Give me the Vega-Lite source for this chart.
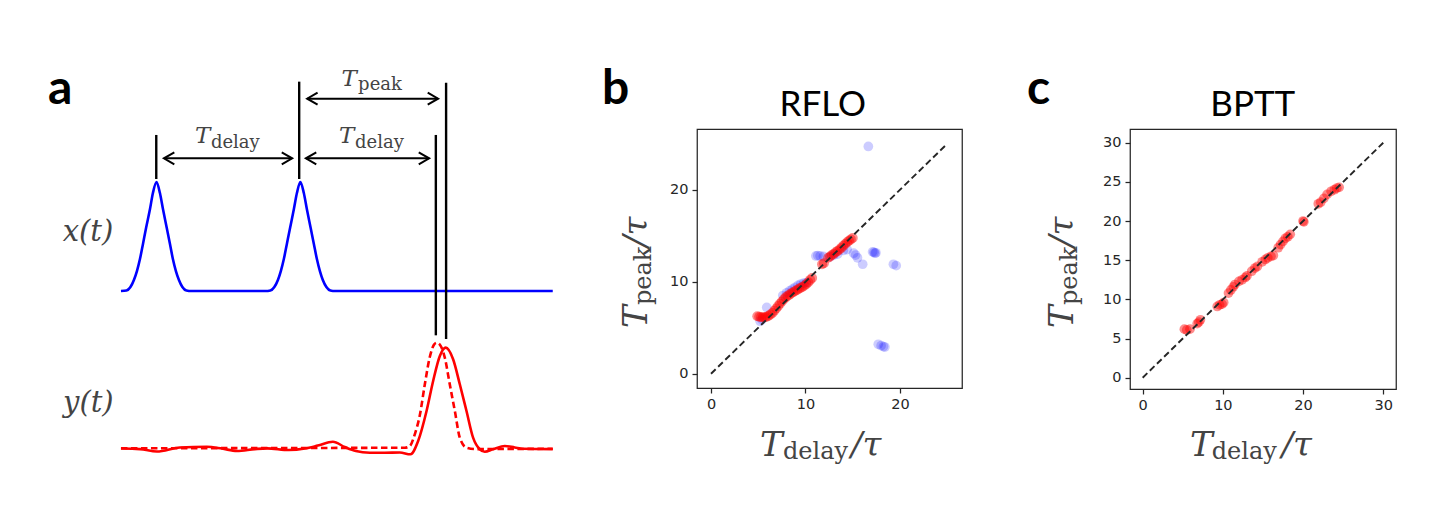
{
  "$schema": "https://vega.github.io/schema/vega-lite/v6.json",
  "background": "white",
  "padding": {"left": 40, "top": 65, "right": 5, "bottom": 5},
  "bounds": "flush",
  "spacing": 168,
  "config": {
    "view": {"stroke": "#262626", "strokeWidth": 1.25},
    "axis": {"domain": false, "grid": false, "ticks": true, "tickSize": 5, "tickColor": "#262626", "tickWidth": 1.25, "labelFont": "DejaVu Sans", "labelFontSize": 14.5, "labelColor": "#262626", "labelPadding": 4}
  },
  "datasets": {
    "x_t": [
      {"t": 0, "v": 1.477}, {"t": 0.51, "v": 1.482}, {"t": 0.88, "v": 1.515}, {"t": 1.2, "v": 1.581}, {"t": 1.48, "v": 1.665}, {"t": 1.76, "v": 1.778}, {"t": 2.04, "v": 1.92}, {"t": 2.33, "v": 2.072}, {"t": 2.69, "v": 2.248}, {"t": 2.96, "v": 2.398}, {"t": 3.29, "v": 2.502}, {"t": 3.61, "v": 2.398}, {"t": 3.89, "v": 2.248}, {"t": 4.24, "v": 2.072}, {"t": 4.54, "v": 1.92}, {"t": 4.81, "v": 1.778}, {"t": 5.09, "v": 1.665}, {"t": 5.37, "v": 1.581}, {"t": 5.69, "v": 1.515}, {"t": 6.06, "v": 1.482}, {"t": 6.53, "v": 1.477},
      {"t": 13.38, "v": 1.477}, {"t": 13.84, "v": 1.482}, {"t": 14.21, "v": 1.515}, {"t": 14.54, "v": 1.581}, {"t": 14.81, "v": 1.665}, {"t": 15.09, "v": 1.778}, {"t": 15.37, "v": 1.92}, {"t": 15.67, "v": 2.072}, {"t": 16.02, "v": 2.248}, {"t": 16.3, "v": 2.398}, {"t": 16.62, "v": 2.502}, {"t": 16.94, "v": 2.398}, {"t": 17.22, "v": 2.248}, {"t": 17.57, "v": 2.072}, {"t": 17.87, "v": 1.92}, {"t": 18.15, "v": 1.778}, {"t": 18.43, "v": 1.665}, {"t": 18.7, "v": 1.581}, {"t": 19.03, "v": 1.515}, {"t": 19.4, "v": 1.482}, {"t": 19.86, "v": 1.477}, {"t": 40, "v": 1.477}
    ],
    "y_t": [
      {"t": 0, "v": -0.003}, {"t": 1.76, "v": -0.008}, {"t": 3.33, "v": -0.031}, {"t": 5.46, "v": 0.007}, {"t": 7.96, "v": 0.014}, {"t": 9.35, "v": -0.003}, {"t": 10.74, "v": -0.026}, {"t": 12.41, "v": -0.008}, {"t": 13.52, "v": -0.001}, {"t": 15.56, "v": -0.017}, {"t": 17.04, "v": -0.003}, {"t": 18.24, "v": 0.025}, {"t": 19.63, "v": 0.061}, {"t": 20.74, "v": 0.011}, {"t": 21.76, "v": -0.026}, {"t": 23.06, "v": -0.042}, {"t": 24.44, "v": -0.043}, {"t": 25.83, "v": -0.04}, {"t": 26.82, "v": -0.057}, {"t": 27.53, "v": 0.068}, {"t": 28.31, "v": 0.35}, {"t": 28.92, "v": 0.632}, {"t": 29.54, "v": 0.867}, {"t": 30.09, "v": 0.945}, {"t": 30.77, "v": 0.836}, {"t": 31.39, "v": 0.601}, {"t": 32.01, "v": 0.35}, {"t": 32.62, "v": 0.099}, {"t": 33.24, "v": -0.01}, {"t": 33.7, "v": -0.033}, {"t": 34.47, "v": -0.01}, {"t": 35.56, "v": 0.021}, {"t": 36.48, "v": 0.007}, {"t": 37.25, "v": -0.005}, {"t": 40, "v": -0.008}
    ],
    "y_target": [
      {"t": 0, "v": 0}, {"t": 26.3, "v": 0.005}, {"t": 26.76, "v": 0.021}, {"t": 27.22, "v": 0.131}, {"t": 27.69, "v": 0.312}, {"t": 28.15, "v": 0.601}, {"t": 28.61, "v": 0.857}, {"t": 28.98, "v": 0.97}, {"t": 29.25, "v": 0.992}, {"t": 29.63, "v": 0.96}, {"t": 30.0, "v": 0.851}, {"t": 30.46, "v": 0.601}, {"t": 30.93, "v": 0.35}, {"t": 31.39, "v": 0.099}, {"t": 32.01, "v": 0.005}, {"t": 32.78, "v": -0.008}, {"t": 40, "v": -0.005}
    ],
    "markers": [
      {"t": 3.27, "y1": 2.53, "y2": 2.944}, {"t": 16.51, "y1": 2.53, "y2": 3.445}, {"t": 29.17, "y1": 1.061, "y2": 2.944}, {"t": 30.12, "y1": 1.026, "y2": 3.435}
    ],
    "intervals": [
      {"name": "delay1", "t1": 3.98, "t2": 15.86, "y": 2.725}, {"name": "delay2", "t1": 17.13, "t2": 28.55, "y": 2.725}, {"name": "peak", "t1": 17.25, "t2": 29.38, "y": 3.285}
    ],
    "rflo_blue": [
      {"x": 16.65, "y": 24.7}, {"x": 17.1, "y": 13.25}, {"x": 17.25, "y": 13.2}, {"x": 17.35, "y": 13.1}, {"x": 17.45, "y": 13.15}, {"x": 19.3, "y": 11.9}, {"x": 19.6, "y": 11.75}, {"x": 17.7, "y": 3.2}, {"x": 18.0, "y": 3.05}, {"x": 18.25, "y": 2.95}, {"x": 18.4, "y": 2.9}, {"x": 16.05, "y": 11.9}, {"x": 15.1, "y": 13.1}, {"x": 15.3, "y": 12.9}, {"x": 15.5, "y": 12.6}, {"x": 14.4, "y": 13.5}, {"x": 14.0, "y": 13.4}, {"x": 11.1, "y": 12.8}, {"x": 11.3, "y": 12.85}, {"x": 11.55, "y": 12.8}, {"x": 11.9, "y": 12.75}, {"x": 12.6, "y": 12.7}, {"x": 13.0, "y": 12.9}, {"x": 13.4, "y": 13.0}, {"x": 7.6, "y": 8.5}, {"x": 8.0, "y": 8.8}, {"x": 8.3, "y": 9.0}, {"x": 8.6, "y": 9.2}, {"x": 8.9, "y": 9.4}, {"x": 9.2, "y": 9.6}, {"x": 9.5, "y": 9.75}, {"x": 9.8, "y": 9.85}, {"x": 10.1, "y": 9.9}, {"x": 5.9, "y": 7.2}, {"x": 5.2, "y": 5.7}, {"x": 5.4, "y": 5.9}
    ],
    "rflo_red": [
      {"x": 4.9, "y": 6.25}, {"x": 5.1, "y": 6.2}, {"x": 5.3, "y": 6.15}, {"x": 5.5, "y": 6.15}, {"x": 5.7, "y": 6.15}, {"x": 5.9, "y": 6.2}, {"x": 6.1, "y": 6.3}, {"x": 6.3, "y": 6.45}, {"x": 6.5, "y": 6.6}, {"x": 6.7, "y": 6.85}, {"x": 6.9, "y": 7.1}, {"x": 7.1, "y": 7.35}, {"x": 7.3, "y": 7.6}, {"x": 7.5, "y": 7.85}, {"x": 7.7, "y": 8.1}, {"x": 7.9, "y": 8.3}, {"x": 8.1, "y": 8.45}, {"x": 8.3, "y": 8.6}, {"x": 8.5, "y": 8.75}, {"x": 8.7, "y": 8.85}, {"x": 8.9, "y": 9.0}, {"x": 9.1, "y": 9.1}, {"x": 9.3, "y": 9.25}, {"x": 9.5, "y": 9.35}, {"x": 9.7, "y": 9.45}, {"x": 9.9, "y": 9.6}, {"x": 10.1, "y": 9.75}, {"x": 10.3, "y": 9.95}, {"x": 10.5, "y": 10.2}, {"x": 10.7, "y": 10.4},
      {"x": 11.75, "y": 11.9}, {"x": 11.95, "y": 12.0},
      {"x": 12.4, "y": 12.6}, {"x": 12.6, "y": 12.75}, {"x": 12.8, "y": 12.9}, {"x": 13.0, "y": 13.05}, {"x": 13.2, "y": 13.2}, {"x": 13.4, "y": 13.35}, {"x": 13.6, "y": 13.5}, {"x": 13.8, "y": 13.7}, {"x": 14.0, "y": 13.9}, {"x": 14.2, "y": 14.1}, {"x": 14.4, "y": 14.3}, {"x": 14.6, "y": 14.45}, {"x": 14.8, "y": 14.6}, {"x": 15.0, "y": 14.75}
    ],
    "bptt_red": [
      {"x": 5.2, "y": 6.2}, {"x": 5.5, "y": 6.1}, {"x": 5.9, "y": 6.2}, {"x": 6.8, "y": 6.9}, {"x": 7.0, "y": 7.1}, {"x": 7.2, "y": 7.4}, {"x": 9.3, "y": 9.1}, {"x": 9.6, "y": 9.3}, {"x": 9.9, "y": 9.4}, {"x": 10.1, "y": 9.6}, {"x": 10.7, "y": 10.8}, {"x": 11.0, "y": 11.2}, {"x": 11.3, "y": 11.6}, {"x": 11.5, "y": 11.9}, {"x": 12.0, "y": 12.3}, {"x": 12.4, "y": 12.5}, {"x": 12.8, "y": 12.8}, {"x": 13.0, "y": 13.0}, {"x": 13.6, "y": 13.6}, {"x": 14.0, "y": 14.0}, {"x": 14.3, "y": 14.2}, {"x": 14.9, "y": 14.8}, {"x": 15.3, "y": 15.1}, {"x": 15.6, "y": 15.3}, {"x": 16.0, "y": 15.5}, {"x": 16.3, "y": 15.6}, {"x": 16.9, "y": 16.6}, {"x": 17.2, "y": 17.0}, {"x": 17.5, "y": 17.4}, {"x": 17.8, "y": 17.8}, {"x": 18.1, "y": 18.0}, {"x": 18.4, "y": 18.3}, {"x": 20.0, "y": 20.0}, {"x": 20.1, "y": 19.9}, {"x": 21.9, "y": 22.2}, {"x": 22.2, "y": 22.4}, {"x": 22.6, "y": 22.9}, {"x": 23.0, "y": 23.4}, {"x": 23.5, "y": 23.8}, {"x": 23.9, "y": 24.0}, {"x": 24.2, "y": 24.2}, {"x": 24.5, "y": 24.3}
    ],
    "diag_b": [{"x": 0, "y": 0}, {"x": 25, "y": 25}],
    "diag_c": [{"x": 0, "y": 0}, {"x": 30, "y": 30}]
  },
  "hconcat": [
    {
      "width": 489, "height": 332, "view": {"stroke": null},
      "layer": [
        {"data": {"name": "x_t"}, "mark": {"type": "line", "color": "#0000ff", "strokeWidth": 2.6, "interpolate": "monotone"},
         "encoding": {"x": {"field": "t", "type": "quantitative", "scale": {"domain": [-7.5, 37.8], "nice": false, "zero": false}, "axis": null}, "y": {"field": "v", "type": "quantitative", "scale": {"domain": [-0.12, 3.0], "nice": false, "zero": false}, "axis": null}}},
        {"data": {"name": "y_t"}, "mark": {"type": "line", "color": "#ff0000", "strokeWidth": 2.6, "interpolate": "monotone"},
         "encoding": {"x": {"field": "t", "type": "quantitative", "scale": {"domain": [-7.5, 37.8], "nice": false, "zero": false}, "axis": null}, "y": {"field": "v", "type": "quantitative", "scale": {"domain": [-0.12, 3.0], "nice": false, "zero": false}, "axis": null}}},
        {"data": {"name": "y_target"}, "mark": {"type": "line", "color": "#ff0000", "strokeWidth": 2.6, "strokeDash": [6.5, 3.5], "interpolate": "monotone"},
         "encoding": {"x": {"field": "t", "type": "quantitative", "scale": {"domain": [-7.5, 37.8], "nice": false, "zero": false}, "axis": null}, "y": {"field": "v", "type": "quantitative", "scale": {"domain": [-0.12, 3.0], "nice": false, "zero": false}, "axis": null}}},
        {"data": {"name": "markers"}, "mark": {"type": "rule", "color": "black", "strokeWidth": 2.4},
         "encoding": {"x": {"field": "t", "type": "quantitative", "scale": {"domain": [-7.5, 37.8], "nice": false, "zero": false}, "axis": null}, "y": {"field": "y1", "type": "quantitative", "scale": {"domain": [-0.12, 3.0], "nice": false, "zero": false}, "axis": null}, "y2": {"field": "y2"}}},
        {"data": {"name": "intervals"}, "mark": {"type": "rule", "color": "black", "strokeWidth": 2},
         "encoding": {"x": {"field": "t1", "type": "quantitative", "scale": {"domain": [-7.5, 37.8], "nice": false, "zero": false}, "axis": null}, "x2": {"field": "t2"}, "y": {"field": "y", "type": "quantitative", "scale": {"domain": [-0.12, 3.0], "nice": false, "zero": false}, "axis": null}}},
        {"data": {"name": "intervals"}, "mark": {"type": "point", "shape": "M1.3,-0.75L0,0L1.3,0.75", "filled": false, "color": "black", "strokeWidth": 2, "size": 256, "opacity": 1},
         "encoding": {"x": {"field": "t1", "type": "quantitative", "scale": {"domain": [-7.5, 37.8], "nice": false, "zero": false}, "axis": null}, "y": {"field": "y", "type": "quantitative", "scale": {"domain": [-0.12, 3.0], "nice": false, "zero": false}, "axis": null}}},
        {"data": {"name": "intervals"}, "mark": {"type": "point", "shape": "M-1.3,-0.75L0,0L-1.3,0.75", "filled": false, "color": "black", "strokeWidth": 2, "size": 256, "opacity": 1},
         "encoding": {"x": {"field": "t2", "type": "quantitative", "scale": {"domain": [-7.5, 37.8], "nice": false, "zero": false}, "axis": null}, "y": {"field": "y", "type": "quantitative", "scale": {"domain": [-0.12, 3.0], "nice": false, "zero": false}, "axis": null}}},
        {"data": {"values": [{}]}, "mark": {"type": "text", "text": "a", "font": "Lato", "fontWeight": "bold", "fontSize": 48, "color": "black", "align": "left", "baseline": "alphabetic"},
         "encoding": {"x": {"datum": -6.76, "type": "quantitative", "scale": {"domain": [-7.5, 37.8], "nice": false, "zero": false}, "axis": null}, "y": {"datum": 3.235, "type": "quantitative", "scale": {"domain": [-0.12, 3.0], "nice": false, "zero": false}, "axis": null}}},
        {"data": {"values": [{}]}, "mark": {"type": "text", "text": "x(t)", "font": "DejaVu Serif", "fontStyle": "italic", "fontSize": 29, "color": "#444", "align": "left", "baseline": "alphabetic"},
         "encoding": {"x": {"datum": -5.4, "type": "quantitative", "scale": {"domain": [-7.5, 37.8], "nice": false, "zero": false}, "axis": null}, "y": {"datum": 1.947, "type": "quantitative", "scale": {"domain": [-0.12, 3.0], "nice": false, "zero": false}, "axis": null}}},
        {"data": {"values": [{}]}, "mark": {"type": "text", "text": "y(t)", "font": "DejaVu Serif", "fontStyle": "italic", "fontSize": 29, "color": "#444", "align": "left", "baseline": "alphabetic"},
         "encoding": {"x": {"datum": -5.37, "type": "quantitative", "scale": {"domain": [-7.5, 37.8], "nice": false, "zero": false}, "axis": null}, "y": {"datum": 0.337, "type": "quantitative", "scale": {"domain": [-0.12, 3.0], "nice": false, "zero": false}, "axis": null}}},
        {"data": {"values": [{}]}, "mark": {"type": "text", "text": "T", "font": "DejaVu Serif", "fontStyle": "italic", "fontSize": 23, "color": "#444", "align": "left", "baseline": "alphabetic"},
         "encoding": {"x": {"datum": 6.85, "type": "quantitative", "scale": {"domain": [-7.5, 37.8], "nice": false, "zero": false}, "axis": null}, "y": {"datum": 2.871, "type": "quantitative", "scale": {"domain": [-0.12, 3.0], "nice": false, "zero": false}, "axis": null}}},
        {"data": {"values": [{}]}, "mark": {"type": "text", "text": "delay", "font": "DejaVu Serif", "fontSize": 18, "color": "#444", "align": "left", "baseline": "alphabetic"},
         "encoding": {"x": {"datum": 8.33, "type": "quantitative", "scale": {"domain": [-7.5, 37.8], "nice": false, "zero": false}, "axis": null}, "y": {"datum": 2.821, "type": "quantitative", "scale": {"domain": [-0.12, 3.0], "nice": false, "zero": false}, "axis": null}}},
        {"data": {"values": [{}]}, "mark": {"type": "text", "text": "T", "font": "DejaVu Serif", "fontStyle": "italic", "fontSize": 23, "color": "#444", "align": "left", "baseline": "alphabetic"},
         "encoding": {"x": {"datum": 20.21, "type": "quantitative", "scale": {"domain": [-7.5, 37.8], "nice": false, "zero": false}, "axis": null}, "y": {"datum": 2.871, "type": "quantitative", "scale": {"domain": [-0.12, 3.0], "nice": false, "zero": false}, "axis": null}}},
        {"data": {"values": [{}]}, "mark": {"type": "text", "text": "delay", "font": "DejaVu Serif", "fontSize": 18, "color": "#444", "align": "left", "baseline": "alphabetic"},
         "encoding": {"x": {"datum": 21.69, "type": "quantitative", "scale": {"domain": [-7.5, 37.8], "nice": false, "zero": false}, "axis": null}, "y": {"datum": 2.821, "type": "quantitative", "scale": {"domain": [-0.12, 3.0], "nice": false, "zero": false}, "axis": null}}},
        {"data": {"values": [{}]}, "mark": {"type": "text", "text": "T", "font": "DejaVu Serif", "fontStyle": "italic", "fontSize": 23, "color": "#444", "align": "left", "baseline": "alphabetic"},
         "encoding": {"x": {"datum": 20.44, "type": "quantitative", "scale": {"domain": [-7.5, 37.8], "nice": false, "zero": false}, "axis": null}, "y": {"datum": 3.404, "type": "quantitative", "scale": {"domain": [-0.12, 3.0], "nice": false, "zero": false}, "axis": null}}},
        {"data": {"values": [{}]}, "mark": {"type": "text", "text": "peak", "font": "DejaVu Serif", "fontSize": 18, "color": "#444", "align": "left", "baseline": "alphabetic"},
         "encoding": {"x": {"datum": 21.97, "type": "quantitative", "scale": {"domain": [-7.5, 37.8], "nice": false, "zero": false}, "axis": null}, "y": {"datum": 3.362, "type": "quantitative", "scale": {"domain": [-0.12, 3.0], "nice": false, "zero": false}, "axis": null}}}
      ]
    },
    {
      "width": 265, "height": 259,
      "layer": [
        {"data": {"name": "rflo_blue"}, "mark": {"type": "circle", "color": "#0000ff", "opacity": 0.2, "size": 95},
         "encoding": {"x": {"field": "x", "type": "quantitative", "scale": {"domain": [-1.48, 26.56], "nice": false, "zero": false}, "axis": {"values": [0, 10, 20], "title": null, "labelFontSize": 14.5, "labelFont": "DejaVu Sans"}}, "y": {"field": "y", "type": "quantitative", "scale": {"domain": [-1.55, 26.6], "nice": false, "zero": false}, "axis": {"values": [0, 10, 20], "title": null, "labelFontSize": 14.5, "labelFont": "DejaVu Sans"}}}},
        {"data": {"name": "rflo_red"}, "mark": {"type": "circle", "color": "#ff0000", "opacity": 0.45, "size": 100},
         "encoding": {"x": {"field": "x", "type": "quantitative", "scale": {"domain": [-1.48, 26.56], "nice": false, "zero": false}, "axis": {"values": [0, 10, 20], "title": null, "labelFontSize": 14.5, "labelFont": "DejaVu Sans"}}, "y": {"field": "y", "type": "quantitative", "scale": {"domain": [-1.55, 26.6], "nice": false, "zero": false}, "axis": {"values": [0, 10, 20], "title": null, "labelFontSize": 14.5, "labelFont": "DejaVu Sans"}}}},
        {"data": {"name": "diag_b"}, "mark": {"type": "line", "color": "#262626", "strokeWidth": 1.9, "strokeDash": [6.5, 3.5]},
         "encoding": {"x": {"field": "x", "type": "quantitative", "scale": {"domain": [-1.48, 26.56], "nice": false, "zero": false}, "axis": {"values": [0, 10, 20], "title": null, "labelFontSize": 14.5, "labelFont": "DejaVu Sans"}}, "y": {"field": "y", "type": "quantitative", "scale": {"domain": [-1.55, 26.6], "nice": false, "zero": false}, "axis": {"values": [0, 10, 20], "title": null, "labelFontSize": 14.5, "labelFont": "DejaVu Sans"}}}},
        {"data": {"values": [{}]}, "mark": {"type": "text", "text": "b", "font": "Lato", "fontWeight": "bold", "fontSize": 48, "color": "black", "align": "left", "baseline": "alphabetic"},
         "encoding": {"x": {"datum": -11.53, "type": "quantitative", "scale": {"domain": [-1.48, 26.56], "nice": false, "zero": false}, "axis": {"values": [0, 10, 20], "title": null, "labelFontSize": 14.5, "labelFont": "DejaVu Sans"}}, "y": {"datum": 29.32, "type": "quantitative", "scale": {"domain": [-1.55, 26.6], "nice": false, "zero": false}, "axis": {"values": [0, 10, 20], "title": null, "labelFontSize": 14.5, "labelFont": "DejaVu Sans"}}}},
        {"data": {"values": [{}]}, "mark": {"type": "text", "text": "RFLO", "font": "Lato", "fontSize": 35, "color": "black", "align": "center", "baseline": "alphabetic"},
         "encoding": {"x": {"datum": 11.83, "type": "quantitative", "scale": {"domain": [-1.48, 26.56], "nice": false, "zero": false}, "axis": {"values": [0, 10, 20], "title": null, "labelFontSize": 14.5, "labelFont": "DejaVu Sans"}}, "y": {"datum": 28.01, "type": "quantitative", "scale": {"domain": [-1.55, 26.6], "nice": false, "zero": false}, "axis": {"values": [0, 10, 20], "title": null, "labelFontSize": 14.5, "labelFont": "DejaVu Sans"}}}},
        {"data": {"values": [{}]}, "mark": {"type": "text", "text": "T", "font": "DejaVu Serif", "fontStyle": "italic", "fontSize": 34, "color": "#444", "align": "left", "baseline": "alphabetic"},
         "encoding": {"x": {"datum": 5.19, "type": "quantitative", "scale": {"domain": [-1.48, 26.56], "nice": false, "zero": false}, "axis": {"values": [0, 10, 20], "title": null, "labelFontSize": 14.5, "labelFont": "DejaVu Sans"}}, "y": {"datum": -8.95, "type": "quantitative", "scale": {"domain": [-1.55, 26.6], "nice": false, "zero": false}, "axis": {"values": [0, 10, 20], "title": null, "labelFontSize": 14.5, "labelFont": "DejaVu Sans"}}}},
        {"data": {"values": [{}]}, "mark": {"type": "text", "text": "delay", "font": "DejaVu Serif", "fontSize": 24, "color": "#444", "align": "left", "baseline": "alphabetic"},
         "encoding": {"x": {"datum": 7.62, "type": "quantitative", "scale": {"domain": [-1.48, 26.56], "nice": false, "zero": false}, "axis": {"values": [0, 10, 20], "title": null, "labelFontSize": 14.5, "labelFont": "DejaVu Sans"}}, "y": {"datum": -9.27, "type": "quantitative", "scale": {"domain": [-1.55, 26.6], "nice": false, "zero": false}, "axis": {"values": [0, 10, 20], "title": null, "labelFontSize": 14.5, "labelFont": "DejaVu Sans"}}}},
        {"data": {"values": [{}]}, "mark": {"type": "text", "text": "/τ", "font": "DejaVu Serif", "fontStyle": "italic", "fontSize": 34, "color": "#444", "align": "left", "baseline": "alphabetic"},
         "encoding": {"x": {"datum": 14.81, "type": "quantitative", "scale": {"domain": [-1.48, 26.56], "nice": false, "zero": false}, "axis": {"values": [0, 10, 20], "title": null, "labelFontSize": 14.5, "labelFont": "DejaVu Sans"}}, "y": {"datum": -8.95, "type": "quantitative", "scale": {"domain": [-1.55, 26.6], "nice": false, "zero": false}, "axis": {"values": [0, 10, 20], "title": null, "labelFontSize": 14.5, "labelFont": "DejaVu Sans"}}}},
        {"data": {"values": [{}]}, "mark": {"type": "text", "text": "T", "font": "DejaVu Serif", "fontStyle": "italic", "fontSize": 34, "color": "#444", "align": "left", "baseline": "alphabetic", "angle": 270},
         "encoding": {"x": {"datum": -6.77, "type": "quantitative", "scale": {"domain": [-1.48, 26.56], "nice": false, "zero": false}, "axis": {"values": [0, 10, 20], "title": null, "labelFontSize": 14.5, "labelFont": "DejaVu Sans"}}, "y": {"datum": 4.97, "type": "quantitative", "scale": {"domain": [-1.55, 26.6], "nice": false, "zero": false}, "axis": {"values": [0, 10, 20], "title": null, "labelFontSize": 14.5, "labelFont": "DejaVu Sans"}}}},
        {"data": {"values": [{}]}, "mark": {"type": "text", "text": "peak", "font": "DejaVu Serif", "fontSize": 24, "color": "#444", "align": "left", "baseline": "alphabetic", "angle": 270},
         "encoding": {"x": {"datum": -6.35, "type": "quantitative", "scale": {"domain": [-1.48, 26.56], "nice": false, "zero": false}, "axis": {"values": [0, 10, 20], "title": null, "labelFontSize": 14.5, "labelFont": "DejaVu Sans"}}, "y": {"datum": 7.47, "type": "quantitative", "scale": {"domain": [-1.55, 26.6], "nice": false, "zero": false}, "axis": {"values": [0, 10, 20], "title": null, "labelFontSize": 14.5, "labelFont": "DejaVu Sans"}}}},
        {"data": {"values": [{}]}, "mark": {"type": "text", "text": "/τ", "font": "DejaVu Serif", "fontStyle": "italic", "fontSize": 34, "color": "#444", "align": "left", "baseline": "alphabetic", "angle": 270},
         "encoding": {"x": {"datum": -6.77, "type": "quantitative", "scale": {"domain": [-1.48, 26.56], "nice": false, "zero": false}, "axis": {"values": [0, 10, 20], "title": null, "labelFontSize": 14.5, "labelFont": "DejaVu Sans"}}, "y": {"datum": 13.77, "type": "quantitative", "scale": {"domain": [-1.55, 26.6], "nice": false, "zero": false}, "axis": {"values": [0, 10, 20], "title": null, "labelFontSize": 14.5, "labelFont": "DejaVu Sans"}}}}
      ]
    },
    {
      "width": 266, "height": 260,
      "layer": [
        {"data": {"name": "bptt_red"}, "mark": {"type": "circle", "color": "#ff0000", "opacity": 0.45, "size": 95},
         "encoding": {"x": {"field": "x", "type": "quantitative", "scale": {"domain": [-1.58, 31.59], "nice": false, "zero": false}, "axis": {"values": [0, 10, 20, 30], "title": null, "labelFontSize": 14.5, "labelFont": "DejaVu Sans"}}, "y": {"field": "y", "type": "quantitative", "scale": {"domain": [-1.44, 31.75], "nice": false, "zero": false}, "axis": {"values": [0, 5, 10, 15, 20, 25, 30], "title": null, "labelFontSize": 14.5, "labelFont": "DejaVu Sans"}}}},
        {"data": {"name": "diag_c"}, "mark": {"type": "line", "color": "#262626", "strokeWidth": 1.9, "strokeDash": [6.5, 3.5]},
         "encoding": {"x": {"field": "x", "type": "quantitative", "scale": {"domain": [-1.58, 31.59], "nice": false, "zero": false}, "axis": {"values": [0, 10, 20, 30], "title": null, "labelFontSize": 14.5, "labelFont": "DejaVu Sans"}}, "y": {"field": "y", "type": "quantitative", "scale": {"domain": [-1.44, 31.75], "nice": false, "zero": false}, "axis": {"values": [0, 5, 10, 15, 20, 25, 30], "title": null, "labelFontSize": 14.5, "labelFont": "DejaVu Sans"}}}},
        {"data": {"values": [{}]}, "mark": {"type": "text", "text": "c", "font": "Lato", "fontWeight": "bold", "fontSize": 48, "color": "black", "align": "left", "baseline": "alphabetic"},
         "encoding": {"x": {"datum": -14.43, "type": "quantitative", "scale": {"domain": [-1.58, 31.59], "nice": false, "zero": false}, "axis": {"values": [0, 10, 20, 30], "title": null, "labelFontSize": 14.5, "labelFont": "DejaVu Sans"}}, "y": {"datum": 34.94, "type": "quantitative", "scale": {"domain": [-1.44, 31.75], "nice": false, "zero": false}, "axis": {"values": [0, 5, 10, 15, 20, 25, 30], "title": null, "labelFontSize": 14.5, "labelFont": "DejaVu Sans"}}}},
        {"data": {"values": [{}]}, "mark": {"type": "text", "text": "BPTT", "font": "Lato", "fontSize": 35, "color": "black", "align": "center", "baseline": "alphabetic"},
         "encoding": {"x": {"datum": 13.73, "type": "quantitative", "scale": {"domain": [-1.58, 31.59], "nice": false, "zero": false}, "axis": {"values": [0, 10, 20, 30], "title": null, "labelFontSize": 14.5, "labelFont": "DejaVu Sans"}}, "y": {"datum": 33.41, "type": "quantitative", "scale": {"domain": [-1.44, 31.75], "nice": false, "zero": false}, "axis": {"values": [0, 5, 10, 15, 20, 25, 30], "title": null, "labelFontSize": 14.5, "labelFont": "DejaVu Sans"}}}},
        {"data": {"values": [{}]}, "mark": {"type": "text", "text": "T", "font": "DejaVu Serif", "fontStyle": "italic", "fontSize": 34, "color": "#444", "align": "left", "baseline": "alphabetic"},
         "encoding": {"x": {"datum": 5.9, "type": "quantitative", "scale": {"domain": [-1.58, 31.59], "nice": false, "zero": false}, "axis": {"values": [0, 10, 20, 30], "title": null, "labelFontSize": 14.5, "labelFont": "DejaVu Sans"}}, "y": {"datum": -9.99, "type": "quantitative", "scale": {"domain": [-1.44, 31.75], "nice": false, "zero": false}, "axis": {"values": [0, 5, 10, 15, 20, 25, 30], "title": null, "labelFontSize": 14.5, "labelFont": "DejaVu Sans"}}}},
        {"data": {"values": [{}]}, "mark": {"type": "text", "text": "delay", "font": "DejaVu Serif", "fontSize": 24, "color": "#444", "align": "left", "baseline": "alphabetic"},
         "encoding": {"x": {"datum": 8.6, "type": "quantitative", "scale": {"domain": [-1.58, 31.59], "nice": false, "zero": false}, "axis": {"values": [0, 10, 20, 30], "title": null, "labelFontSize": 14.5, "labelFont": "DejaVu Sans"}}, "y": {"datum": -10.38, "type": "quantitative", "scale": {"domain": [-1.44, 31.75], "nice": false, "zero": false}, "axis": {"values": [0, 5, 10, 15, 20, 25, 30], "title": null, "labelFontSize": 14.5, "labelFont": "DejaVu Sans"}}}},
        {"data": {"values": [{}]}, "mark": {"type": "text", "text": "/τ", "font": "DejaVu Serif", "fontStyle": "italic", "fontSize": 34, "color": "#444", "align": "left", "baseline": "alphabetic"},
         "encoding": {"x": {"datum": 17.33, "type": "quantitative", "scale": {"domain": [-1.58, 31.59], "nice": false, "zero": false}, "axis": {"values": [0, 10, 20, 30], "title": null, "labelFontSize": 14.5, "labelFont": "DejaVu Sans"}}, "y": {"datum": -9.99, "type": "quantitative", "scale": {"domain": [-1.44, 31.75], "nice": false, "zero": false}, "axis": {"values": [0, 5, 10, 15, 20, 25, 30], "title": null, "labelFontSize": 14.5, "labelFont": "DejaVu Sans"}}}},
        {"data": {"values": [{}]}, "mark": {"type": "text", "text": "T", "font": "DejaVu Serif", "fontStyle": "italic", "fontSize": 34, "color": "#444", "align": "left", "baseline": "alphabetic", "angle": 270},
         "encoding": {"x": {"datum": -8.69, "type": "quantitative", "scale": {"domain": [-1.58, 31.59], "nice": false, "zero": false}, "axis": {"values": [0, 10, 20, 30], "title": null, "labelFontSize": 14.5, "labelFont": "DejaVu Sans"}}, "y": {"datum": 6.35, "type": "quantitative", "scale": {"domain": [-1.44, 31.75], "nice": false, "zero": false}, "axis": {"values": [0, 5, 10, 15, 20, 25, 30], "title": null, "labelFontSize": 14.5, "labelFont": "DejaVu Sans"}}}},
        {"data": {"values": [{}]}, "mark": {"type": "text", "text": "peak", "font": "DejaVu Serif", "fontSize": 24, "color": "#444", "align": "left", "baseline": "alphabetic", "angle": 270},
         "encoding": {"x": {"datum": -8.19, "type": "quantitative", "scale": {"domain": [-1.58, 31.59], "nice": false, "zero": false}, "axis": {"values": [0, 10, 20, 30], "title": null, "labelFontSize": 14.5, "labelFont": "DejaVu Sans"}}, "y": {"datum": 9.28, "type": "quantitative", "scale": {"domain": [-1.44, 31.75], "nice": false, "zero": false}, "axis": {"values": [0, 5, 10, 15, 20, 25, 30], "title": null, "labelFontSize": 14.5, "labelFont": "DejaVu Sans"}}}},
        {"data": {"values": [{}]}, "mark": {"type": "text", "text": "/τ", "font": "DejaVu Serif", "fontStyle": "italic", "fontSize": 34, "color": "#444", "align": "left", "baseline": "alphabetic", "angle": 270},
         "encoding": {"x": {"datum": -8.69, "type": "quantitative", "scale": {"domain": [-1.58, 31.59], "nice": false, "zero": false}, "axis": {"values": [0, 10, 20, 30], "title": null, "labelFontSize": 14.5, "labelFont": "DejaVu Sans"}}, "y": {"datum": 16.69, "type": "quantitative", "scale": {"domain": [-1.44, 31.75], "nice": false, "zero": false}, "axis": {"values": [0, 5, 10, 15, 20, 25, 30], "title": null, "labelFontSize": 14.5, "labelFont": "DejaVu Sans"}}}}
      ]
    }
  ]
}
